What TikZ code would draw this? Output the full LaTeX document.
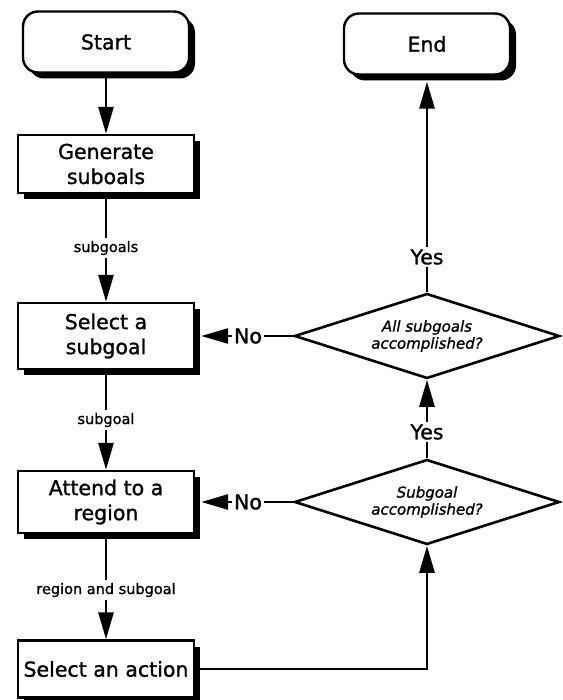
\documentclass[tikz,border=0pt]{standalone}
\usepackage{fontspec}
\setmainfont{DejaVu Sans}
\newfontfamily\hv{DejaVu Sans}[FakeBold=1.2]
\usetikzlibrary{shapes.geometric,shadows,arrows.meta}
\begin{document}
\begin{tikzpicture}[x=1pt,y=-1pt,
  box/.style={draw,line width=2.4pt,fill=white,minimum width=176pt,minimum height=62pt,inner sep=0pt,align=center,font=\hv\fontsize{20.5}{25}\selectfont,drop shadow={shadow xshift=6pt,shadow yshift=-6pt,fill=black,opacity=1}},
  term/.style={box,rounded corners=15pt,minimum width=166pt,minimum height=61pt},
  dec/.style={diamond,draw,line width=2.6pt,fill=white,minimum width=265pt,minimum height=85pt,aspect=3.1,inner sep=0pt,align=center,font=\hv\fontsize{15}{17}\selectfont\itshape},
  lab/.style={font=\hv\fontsize{14.5}{17}\selectfont,inner sep=3pt},
  yn/.style={font=\hv\fontsize{20.5}{24}\selectfont,inner sep=2pt},
  conn/.style={line width=2.8pt},
  arr/.style={conn,-{Triangle[length=27pt,width=15pt]}}
]
\useasboundingbox (0,0) rectangle (562,700);
\node[term] (start) at (106,42) {Start};
\node[term] (end) at (427,44) {End};
\node[box,minimum height=58pt] (gen) at (106,164) {Generate\\suboals};
\node[box,minimum height=66pt] (sel) at (106,336) {Select a\\subgoal};
\node[box] (att) at (106,502) {Attend to a\\region};
\node[box,minimum height=57pt] (act) at (106,669) {Select an action};
\node[dec] (d1) at (427,336) {All subgoals\\accomplished?};
\node[dec] (d2) at (427,502) {Subgoal\\accomplished?};
\node[lab] (l1) at (106,248) {subgoals};
\node[lab] (l2) at (106,420) {subgoal};
\node[lab] (l3) at (106,590) {region and subgoal};
\node[yn] (y1) at (427,257) {Yes};
\node[yn] (y2) at (427,432) {Yes};
\node[yn] (n1) at (248,336) {No};
\node[yn] (n2) at (248,502) {No};
\draw[arr] (start.south) -- (gen.north);
\draw[conn] (gen.south) -- (l1.north);
\draw[arr] (l1.south) -- (sel.north);
\draw[conn] (sel.south) -- (l2.north);
\draw[arr] (l2.south) -- (att.north);
\draw[conn] (att.south) -- (l3.north);
\draw[arr] (l3.south) -- (act.north);
\draw[arr] (act.east) -| (d2.south);
\draw[conn] (d2.west) -- (n2.east);
\draw[arr] (n2.west) -- ([xshift=6pt]att.east);
\draw[conn] (d1.west) -- (n1.east);
\draw[arr] (n1.west) -- ([xshift=6pt]sel.east);
\draw[conn] (d2.north) -- (y2.south);
\draw[arr] (y2.north) -- (d1.south);
\draw[conn] (d1.north) -- (y1.south);
\draw[arr] (y1.north) -- ([yshift=-6pt]end.south);
\end{tikzpicture}
\end{document}
